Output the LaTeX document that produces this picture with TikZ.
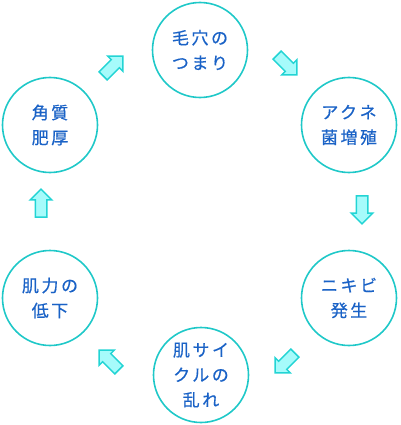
\documentclass[tikz,border=0pt]{standalone}
\usepackage{fontspec}
\newfontfamily\jpfont[LetterSpace=15, FakeBold=0.5]{Noto Sans CJK JP}
\usetikzlibrary{shapes.arrows}
\definecolor{ringcyan}{HTML}{1FC8C8}
\definecolor{textblue}{HTML}{1A62C6}
\definecolor{arrowfill}{HTML}{A6FBFB}
\definecolor{arrowline}{HTML}{22D4D4}

\begin{document}
\begin{tikzpicture}[
                x=1pt, y=-1pt,
                stage/.style={circle, draw=ringcyan, line width=1.6pt, minimum size=95pt, inner sep=0pt, align=center, text=textblue, font=\jpfont\fontsize{17}{25}\selectfont},
                blockarrow/.style={single arrow, draw=arrowline, fill=arrowfill, line width=1.5pt, minimum height=28pt, inner sep=5pt, single arrow head extend=5pt}
            ]
                \useasboundingbox (0,0) rectangle (400,425);

                % Define Nodes
                \node (pore) [stage] at (200,50) {毛穴の\\つまり};
                \node (acne) [stage] at (349,125) {アクネ\\菌増殖};
                \node (pimple) [stage] at (349,298) {ニキビ\\発生};
                \node (cycle) [stage] at (201,375) {肌サイ\\クルの\\乱れ};
                \node (power) [stage] at (50,298) {肌力の\\低下};
                \node (keratin) [stage] at (50,125) {角質\\肥厚};

                % Draw Arrows
                \node (poretoacne) [blockarrow, rotate=-45] at (285,63) {};
                \node (acnetopimple) [blockarrow, rotate=-90] at (362,207) {};
                \node (pimpletocycle) [blockarrow, rotate=-135] at (287,361) {};
                \node (cycletopower) [blockarrow, rotate=135] at (111,362) {};
                \node (powertokeratin) [blockarrow, rotate=90] at (41,206) {};
                \node (keratintopore) [blockarrow, rotate=45] at (111,68) {};
\end{tikzpicture}
\end{document}
